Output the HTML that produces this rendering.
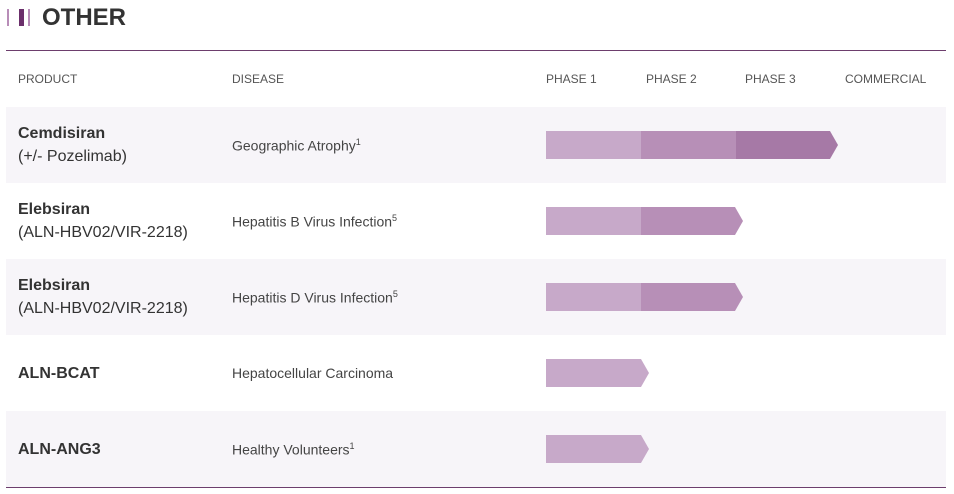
<!DOCTYPE html>
<html><head><style>
body{margin:0;width:954px;height:494px;background:#fff;font-family:"Liberation Sans",sans-serif;color:#333;position:relative;overflow:hidden}
.a{position:absolute}
.t{font-size:24px;font-weight:bold;color:#333;left:42px;top:4px}
.h{font-size:12px;color:#555;top:72px}
.row{position:absolute;left:6px;width:940px;height:76px}
.bg{background:#f7f5f9}
.p{position:absolute;left:12px;font-size:16px;line-height:23px;color:#333}
.p b{color:#333}
.d{position:absolute;left:226px;font-size:14px;color:#444}
.d sup{font-size:9px}
.bar{position:absolute;top:24px;height:28px}
</style></head><body>
<div class="a" style="left:7px;top:9px;width:2px;height:17px;background:#b88db8"></div>
<div class="a" style="left:19px;top:9px;width:5px;height:17px;background:#6b2f6b"></div>
<div class="a" style="left:28px;top:9px;width:2px;height:17px;background:#b88db8"></div>
<div class="a t">OTHER</div>
<div class="a" style="left:6px;top:50px;width:940px;height:1px;background:#6d3e6d"></div>
<div class="a h" style="left:18px">PRODUCT</div>
<div class="a h" style="left:232px">DISEASE</div>
<div class="a h" style="left:546px">PHASE 1</div>
<div class="a h" style="left:646px">PHASE 2</div>
<div class="a h" style="left:745px">PHASE 3</div>
<div class="a h" style="left:845px">COMMERCIAL</div>

<div class="row bg" style="top:107px">
<div class="p" style="top:15px"><b>Cemdisiran</b><br>(+/- Pozelimab)</div>
<div class="d" style="top:30px">Geographic Atrophy<sup>1</sup></div>
<svg class="bar" style="left:540px" width="300" height="28"><rect x="0" y="0" width="95" height="28" fill="#c7a9c9"/><rect x="95" y="0" width="95" height="28" fill="#b78fb7"/><polygon points="190,0 284,0 292,14 284,28 190,28" fill="#a679a6"/></svg>
</div>
<div class="row" style="top:183px">
<div class="p" style="top:15px"><b>Elebsiran</b><br>(ALN-HBV02/VIR-2218)</div>
<div class="d" style="top:30px">Hepatitis B Virus Infection<sup>5</sup></div>
<svg class="bar" style="left:540px" width="300" height="28"><rect x="0" y="0" width="95" height="28" fill="#c7a9c9"/><polygon points="95,0 189,0 197,14 189,28 95,28" fill="#b78fb7"/></svg>
</div>
<div class="row bg" style="top:259px">
<div class="p" style="top:15px"><b>Elebsiran</b><br>(ALN-HBV02/VIR-2218)</div>
<div class="d" style="top:30px">Hepatitis D Virus Infection<sup>5</sup></div>
<svg class="bar" style="left:540px" width="300" height="28"><rect x="0" y="0" width="95" height="28" fill="#c7a9c9"/><polygon points="95,0 189,0 197,14 189,28 95,28" fill="#b78fb7"/></svg>
</div>
<div class="row" style="top:335px">
<div class="p" style="top:27px"><b>ALN-BCAT</b></div>
<div class="d" style="top:30px">Hepatocellular Carcinoma</div>
<svg class="bar" style="left:540px" width="300" height="28"><polygon points="0,0 95,0 103,14 95,28 0,28" fill="#c7a9c9"/></svg>
</div>
<div class="row bg" style="top:411px">
<div class="p" style="top:27px"><b>ALN-ANG3</b></div>
<div class="d" style="top:30px">Healthy Volunteers<sup>1</sup></div>
<svg class="bar" style="left:540px" width="300" height="28"><polygon points="0,0 95,0 103,14 95,28 0,28" fill="#c7a9c9"/></svg>
</div>
<div class="a" style="left:6px;top:487px;width:940px;height:1px;background:#6d3e6d"></div>
</body></html>
